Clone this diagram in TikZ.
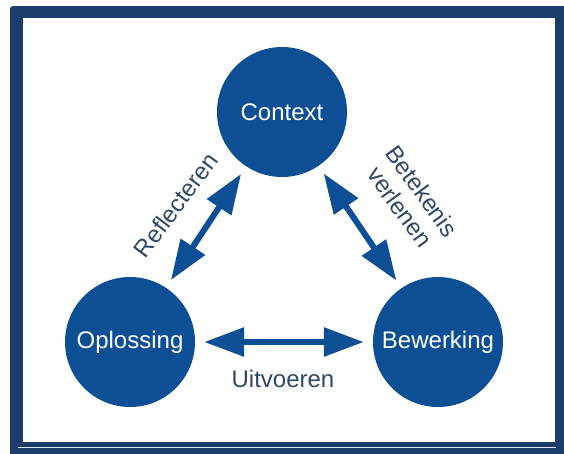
\documentclass[tikz,border=0pt]{standalone}
\usepackage{fontspec}
\setmainfont{Liberation Sans}
\usetikzlibrary{arrows.meta}
\definecolor{framenavy}{HTML}{1B3C6B}
\definecolor{circblue}{HTML}{0C4F95}
\definecolor{labelgray}{HTML}{2E4868}
\definecolor{paleline}{HTML}{DCE8F4}
\tikzset{
  bubble/.style={circle, fill=circblue, minimum size=130pt, inner sep=0pt,
    text=white, font=\fontsize{24}{27}\selectfont},
  link/.style={line width=6pt, draw=circblue,
    {Triangle[length=40pt,width=28pt]}-{Triangle[length=40pt,width=28pt]},
    shorten <=9pt, shorten >=9pt},
  lbl/.style={text=labelgray, font=\fontsize{24}{27}\selectfont, inner sep=0pt}
}
\begin{document}
\begin{tikzpicture}[x=1pt,y=-1pt]
\useasboundingbox (0,0) rectangle (564,453);
\fill[white] (0,0) rectangle (564,453);
\fill[framenavy, rounded corners=3pt] (10,6) rectangle (570,460);
\fill[white] (23,18) rectangle (555,442);
\draw[paleline, line width=1pt] (18,447) -- (556,447);
\node[bubble] (ctx) at (282,112) {Context};
\node[bubble] (opl) at (130,342) {Oplossing};
\node[bubble] (bew) at (438,342) {Bewerking};
\draw[link] (opl) -- (bew);
\draw[link] (opl) -- (ctx);
\draw[link] (ctx) -- (bew);
\node[lbl] (uit) at (283,379) {Uitvoeren};
\node[lbl, rotate=53] (refl) at (176,205) {Reflecteren};
\node[lbl, rotate=-54, align=center] (bet) at (411,199) {Betekenis\\verlenen};
\end{tikzpicture}
\end{document}
